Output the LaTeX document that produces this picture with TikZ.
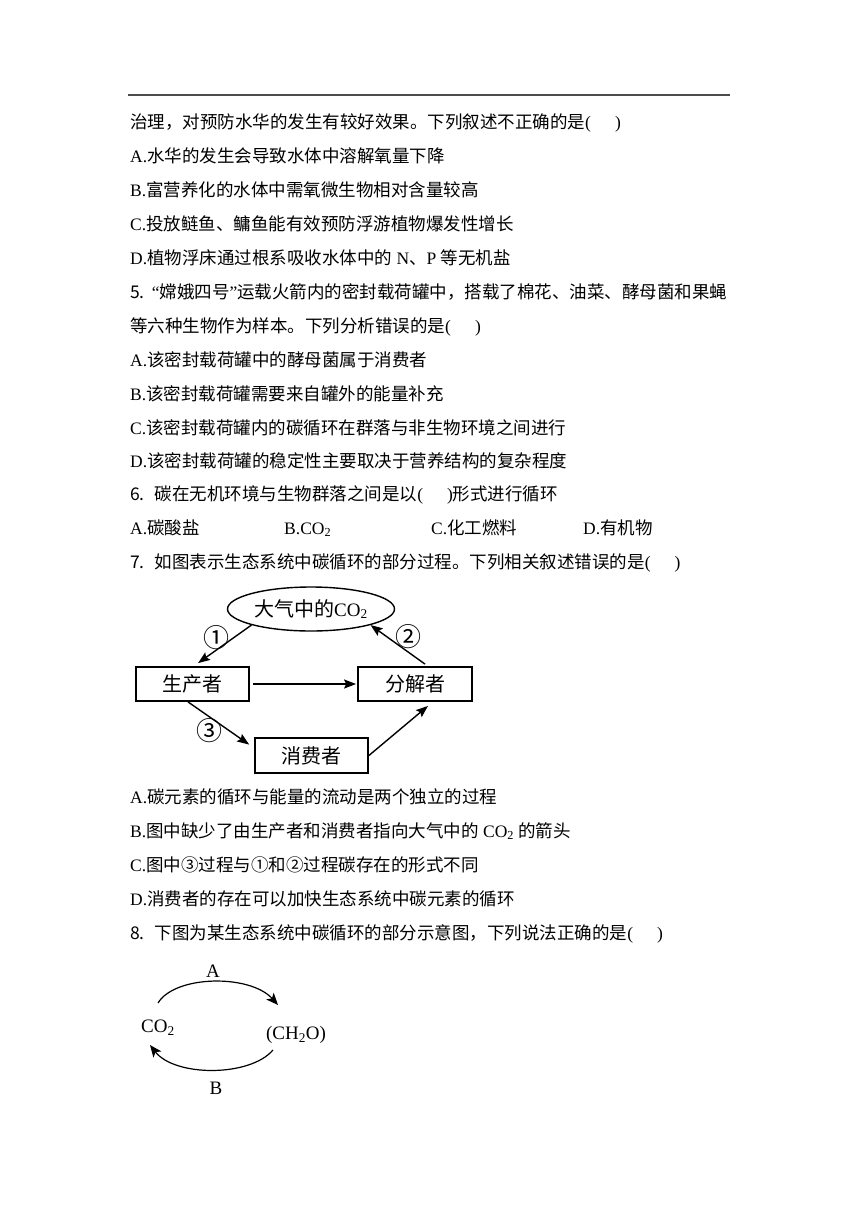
\documentclass[tikz,border=0pt]{standalone}
\usepackage{fontspec}
\setmainfont{Noto Sans CJK SC}
\newfontfamily\tnr{Liberation Serif}
\usetikzlibrary{shapes.geometric,arrows.meta}
\newcommand\lat[1]{{\tnr #1}}
\newcommand\blank{\lat{(\hspace{24pt})}}
\begin{document}
\begin{tikzpicture}[x=1pt,y=-1pt,
    txt/.style={anchor=base west,inner sep=0pt,font=\fontsize{17.5}{20}\selectfont},
    box/.style={draw,line width=1.8pt,minimum height=34pt,inner sep=0pt,font=\fontsize{20}{22}\selectfont},
    ell/.style={draw,ellipse,line width=1.4pt,minimum width=167pt,minimum height=44pt,inner sep=0pt,font=\fontsize{20}{22}\selectfont},
    num/.style={inner sep=0pt,font=\fontsize{26}{28}\selectfont},
    arr/.style={line width=1.4pt,-{Stealth[length=12pt,width=9pt,inset=2pt]}},
    cyc/.style={line width=1.2pt,-{Stealth[length=12pt,width=10pt,inset=3pt]}},
    chem/.style={inner sep=0pt,font=\tnr\fontsize{19}{21}\selectfont}]
    \useasboundingbox (0,0) rectangle (860,1216);
    \draw[line width=1.5pt,black!70] (128,95) -- (730,95);
    \node[txt] (l1) at (130,128) {治理，对预防水华的发生有较好效果。下列叙述不正确的是\blank};
    \node[txt] (l2) at (130,162) {\lat{A.}水华的发生会导致水体中溶解氧量下降};
    \node[txt] (l3) at (130,196) {\lat{B.}富营养化的水体中需氧微生物相对含量较高};
    \node[txt] (l4) at (130,230) {\lat{C.}投放鲢鱼、鳙鱼能有效预防浮游植物爆发性增长};
    \node[txt] (l5) at (130,264) {\lat{D.}植物浮床通过根系吸收水体中的\lat{ N}、\lat{P }等无机盐};
    \node[txt] (l6) at (130,298) {5.\hspace{7pt}\lat{“}嫦娥四号\lat{”}运载火箭内的密封载荷罐中，搭载了棉花、油菜、酵母菌和果蝇};
    \node[txt] (l7) at (130,332) {等六种生物作为样本。下列分析错误的是\blank};
    \node[txt] (l8) at (130,366) {\lat{A.}该密封载荷罐中的酵母菌属于消费者};
    \node[txt] (l9) at (130,400) {\lat{B.}该密封载荷罐需要来自罐外的能量补充};
    \node[txt] (l10) at (130,434) {\lat{C.}该密封载荷罐内的碳循环在群落与非生物环境之间进行};
    \node[txt] (l11) at (130,467) {\lat{D.}该密封载荷罐的稳定性主要取决于营养结构的复杂程度};
    \node[txt] (l12) at (130,500) {6.\hspace{10pt}碳在无机环境与生物群落之间是以\blank 形式进行循环};
    \node[txt] (o1) at (130,534) {\lat{A.}碳酸盐};
    \node[txt] (o2) at (284,534) {\lat{B.CO\textsubscript{2}}};
    \node[txt] (o3) at (431,534) {\lat{C.}化工燃料};
    \node[txt] (o4) at (583,534) {\lat{D.}有机物};
    \node[txt] (l13) at (130,568) {7.\hspace{10pt}如图表示生态系统中碳循环的部分过程。下列相关叙述错误的是\blank};
    \node[ell] (air) at (311,609) {\raisebox{-3pt}{大气中的\lat{\fontsize{19}{20}\selectfont CO\textsubscript{2}}}};
    \node[box,minimum width=113pt] (pro) at (192.5,684) {生产者};
    \node[box,minimum width=114pt] (dec) at (415,684) {分解者};
    \node[box,minimum width=113pt,minimum height=35pt] (con) at (311.5,755.5) {消费者};
    \draw[arr] (air.south west) -- ([xshift=5.5pt,yshift=3pt]pro.north);
    \draw[arr] ([xshift=10pt,yshift=2pt]dec.north) -- (air.south east);
    \draw[arr,shorten <=3pt,shorten >=1pt] (pro) -- (dec);
    \draw[arr,shorten >=6pt] ([xshift=-4.5pt]pro.south) -- ([yshift=7.5pt]con.west);
    \draw[arr] (con.east) -- ([xshift=13pt,yshift=-4pt]dec.south);
    \node[num] (c1) at (216,638) {①};
    \node[num] (c2) at (408,637) {②};
    \node[num] (c3) at (209,731) {③};
    \node[txt] (l14) at (130,803) {\lat{A.}碳元素的循环与能量的流动是两个独立的过程};
    \node[txt] (l15) at (130,837) {\lat{B.}图中缺少了由生产者和消费者指向大气中的\lat{ CO\textsubscript{2} }的箭头};
    \node[txt] (l16) at (130,871) {\lat{C.}图中③过程与①和②过程碳存在的形式不同};
    \node[txt] (l17) at (130,905) {\lat{D.}消费者的存在可以加快生态系统中碳元素的循环};
    \node[txt] (l18) at (130,939) {8.\hspace{10pt}下图为某生态系统中碳循环的部分示意图，下列说法正确的是\blank};
    \node[chem] (co2) at (158,1028) {CO\textsubscript{2}};
    \node[chem] (ch2o) at (296,1035) {(CH\textsubscript{2}O)};
    \node[chem] (la) at (213,971) {A};
    \node[chem] (lb) at (216,1088) {B};
    \draw[cyc] ([yshift=25pt]co2.center) .. controls +(17,-28) and +(-28,-31) .. ([xshift=-18pt,yshift=30pt]ch2o.center);
    \draw[cyc] ([xshift=-23pt,yshift=-15pt]ch2o.center) .. controls +(-23,27) and +(25,32) .. ([xshift=-8pt,yshift=-17pt]co2.center);
\end{tikzpicture}
\end{document}
